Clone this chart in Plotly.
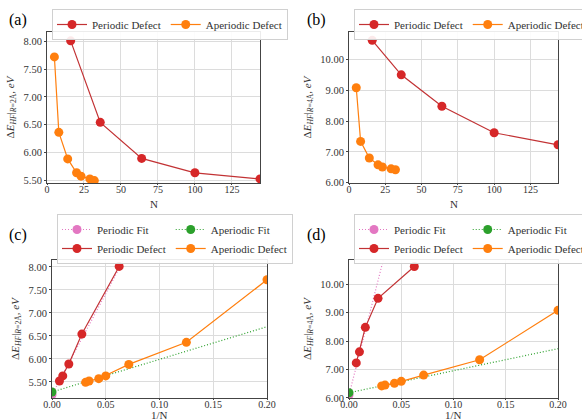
import plotly.graph_objects as go
from plotly.subplots import make_subplots

# ---- data ----
N_periodic = [16, 36, 64, 100, 144]
N_aperiodic = [5, 8, 14, 20, 23, 29, 32]

E2_periodic = [8.01, 6.54, 5.89, 5.63, 5.52]
E2_aperiodic = [7.72, 6.36, 5.88, 5.63, 5.57, 5.52, 5.49]

E4_periodic = [10.62, 9.50, 8.48, 7.62, 7.23]
E4_aperiodic = [9.08, 7.34, 6.80, 6.58, 6.51, 6.45, 6.42]

invN_periodic = [1 / n for n in N_periodic]
invN_aperiodic = [1 / n for n in N_aperiodic]

# fit lines (endpoints)
fit_x = [0.0, 0.2]
fit2_periodic = [5.22, 14.02]
fit2_aperiodic = [5.28, 6.70]
fit4_periodic = [6.10, 35.10]
fit4_aperiodic = [6.18, 7.73]

RED = "#d62728"
RED_LINE = "#c23234"
ORANGE = "#ff7f0e"
PINK = "#e377c2"
GREEN = "#2ca02c"
CLEAR = "rgba(0,0,0,0)"
FONT = "Liberation Serif"

fig = make_subplots(rows=2, cols=2)

def defect(x, y, name, color, lcolor, row, col, legend, group):
    fig.add_trace(go.Scatter(x=x, y=y, mode="lines+markers", name=name,
                             line=dict(color=lcolor, width=1.2),
                             marker=dict(color=color, size=9),
                             legend=legend, legendgroup=group),
                  row=row, col=col)

def fit(x, y, name, color, row, col, legend, group):
    # marker only shown at the intercept (x = 0)
    fig.add_trace(go.Scatter(x=x, y=y, mode="lines+markers", name=name,
                             line=dict(color=color, width=1.2, dash="1px,2px"),
                             marker=dict(color=[color, CLEAR], size=9),
                             legend=legend, legendgroup=group),
                  row=row, col=col)

# (a)
defect(N_periodic, E2_periodic, "Periodic Defect", RED, RED_LINE, 1, 1, "legend", "pa")
defect(N_aperiodic, E2_aperiodic, "Aperiodic Defect", ORANGE, ORANGE, 1, 1, "legend", "aa")
# (b)
defect(N_periodic, E4_periodic, "Periodic Defect", RED, RED_LINE, 1, 2, "legend2", "pb")
defect(N_aperiodic, E4_aperiodic, "Aperiodic Defect", ORANGE, ORANGE, 1, 2, "legend2", "ab")
# (c)
fit(fit_x, fit2_periodic, "Periodic Fit", PINK, 2, 1, "legend3", "pc")
defect(invN_periodic, E2_periodic, "Periodic Defect", RED, RED_LINE, 2, 1, "legend3", "pc")
fit(fit_x, fit2_aperiodic, "Aperiodic Fit", GREEN, 2, 1, "legend3", "ac")
defect(invN_aperiodic, E2_aperiodic, "Aperiodic Defect", ORANGE, ORANGE, 2, 1, "legend3", "ac")
# (d)
fit(fit_x, fit4_periodic, "Periodic Fit", PINK, 2, 2, "legend4", "pd")
defect(invN_periodic, E4_periodic, "Periodic Defect", RED, RED_LINE, 2, 2, "legend4", "pd")
fit(fit_x, fit4_aperiodic, "Aperiodic Fit", GREEN, 2, 2, "legend4", "ad")
defect(invN_aperiodic, E4_aperiodic, "Aperiodic Defect", ORANGE, ORANGE, 2, 2, "legend4", "ad")

W, H = 582, 420
def px(x):
    return x / W
def py(y):
    return 1 - y / H

axis_common = dict(showline=True, mirror=True, linecolor="#444", linewidth=1,
                   showgrid=True, gridcolor="#dcdcdc", gridwidth=1,
                   ticks="outside", ticklen=2, tickcolor="#444",
                   tickfont=dict(family=FONT, size=10.5, color="#333"),
                   zeroline=False)
xaxis_common = dict(axis_common, ticklen=1, ticklabelstandoff=-4,
                    tickfont=dict(family=FONT, size=10, color="#333"))

ytitle2 = "Δ<i>E</i><sub><i>HF</i></sub>|<sub><i>R</i>=2Å</sub>, <i>eV</i>"
ytitle4 = "Δ<i>E</i><sub><i>HF</i></sub>|<sub><i>R</i>=4Å</sub>, <i>eV</i>"
tfont = dict(family=FONT, size=11, color="#333")

fig.update_layout(
    xaxis=dict(domain=[px(47), px(260)], range=[0, 144], tickvals=[0, 25, 50, 75, 100, 125],
               **xaxis_common),
    yaxis=dict(domain=[py(183), py(32)], range=[5.446, 8.17], tickvals=[5.5, 6.0, 6.5, 7.0, 7.5, 8.0],
               tickformat=".2f", title=dict(text=ytitle2, font=tfont, standoff=6), **axis_common),
    xaxis2=dict(domain=[px(349), px(558)], range=[0, 144], tickvals=[0, 25, 50, 75, 100, 125],
                **xaxis_common),
    yaxis2=dict(domain=[py(183), py(32)], range=[5.99, 10.89], tickvals=[6, 7, 8, 9, 10],
                tickformat=".2f", title=dict(text=ytitle4, font=tfont, standoff=6), **axis_common),
    xaxis3=dict(domain=[px(52), px(267)], range=[0, 0.2], tickvals=[0, 0.05, 0.1, 0.15, 0.2],
                tickformat=".2f", **xaxis_common),
    yaxis3=dict(domain=[py(398), py(260)], range=[5.15, 8.15], tickvals=[5.5, 6.0, 6.5, 7.0, 7.5, 8.0],
                tickformat=".2f", title=dict(text=ytitle2, font=tfont, standoff=6), **axis_common),
    xaxis4=dict(domain=[px(349), px(558)], range=[0, 0.2], tickvals=[0, 0.05, 0.1, 0.15, 0.2],
                tickformat=".2f", **xaxis_common),
    yaxis4=dict(domain=[py(398), py(260)], range=[5.995, 10.85], tickvals=[6, 7, 8, 9, 10],
                tickformat=".2f", title=dict(text=ytitle4, font=tfont, standoff=6), **axis_common),
)

leg_common = dict(orientation="h", xanchor="left", yanchor="top",
                  bgcolor="rgba(255,255,255,0.9)", bordercolor="#d0d0d0", borderwidth=1,
                  font=dict(family=FONT, size=11, color="#333"), itemclick=False,
                  itemwidth=30, traceorder="grouped", tracegroupgap=4)

fig.update_layout(
    width=W, height=H,
    margin=dict(l=0, r=0, t=0, b=0, autoexpand=False),
    paper_bgcolor="white", plot_bgcolor="white",
    showlegend=True,
    legend=dict(x=px(52), y=py(9), **leg_common),
    legend2=dict(x=px(354), y=py(9), **leg_common),
    legend3=dict(x=px(57), y=py(214), **leg_common),
    legend4=dict(x=px(354), y=py(214), **leg_common),
    font=dict(family=FONT),
)

# panel labels
for label, x, y in [("(a)", 18, 20), ("(b)", 316, 20), ("(c)", 18, 235), ("(d)", 316, 235)]:
    fig.add_annotation(text=label, x=px(x), y=py(y), xref="paper", yref="paper",
                       showarrow=False, font=dict(family=FONT, size=16, color="black"),
                       xanchor="center", yanchor="middle")

# x-axis titles
for label, x, y in [("N", 153.5, 204), ("N", 453.5, 204), ("1/N", 159.5, 415), ("1/N", 453.5, 415)]:
    fig.add_annotation(text=label, x=px(x), y=py(y), xref="paper", yref="paper",
                       showarrow=False, font=tfont, xanchor="center", yanchor="middle")

fig.write_html("out.html", post_script="document.body.style.margin='0';",
               config={"displayModeBar": False})
